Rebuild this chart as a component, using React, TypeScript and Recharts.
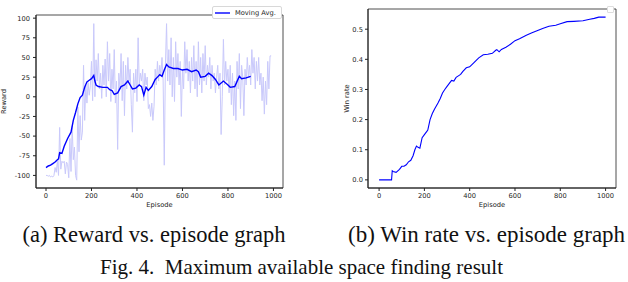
import { Legend, Line, LineChart, ReferenceArea, XAxis, YAxis } from "recharts";

const RAW_STEP = 5;
const rawReward = [
  -100, -100, -101, -100, -102, -101, -102, -100, -90, -96, -82, -100, -39, -92, -82, -84, -82, -98, -83, -86,
  -103, -53, -95, -37, -80, -64, -100, -106, -13, -70, -24, -55, -45, 40, -30, 15, -8, 18, 2, 14,
  45, -5, 93, 0, 47, 20, 55, 10, 30, -2, 40, 15, 48, 0, 70, 20, 55, -6, 35, 10,
  60, -8, 20, -67, 30, 10, 55, -5, 45, -24, 40, 10, 50, 20, 35, -10, -45, 30, 5, 35,
  -6, 75, 15, 30, 20, 35, -5, 30, 15, 25, -15, -10, -25, -8, -30, -12, 35, 15, 45, 20,
  40, 28, 50, 20, -87, 40, 93, 20, 60, 15, 75, 0, 50, -6, 70, 25, 55, 15, 45, -25,
  35, 10, 70, 30, 60, 20, 45, 5, 50, 20, 65, 10, 45, 0, 70, 15, 50, 5, 55, 20,
  65, 15, 40, 25, 50, 10, 40, 20, 30, 5, 25, 40, 10, 30, -48, 0, 73, 15, 45, 20,
  35, 5, 40, -10, 30, -24, 20, -30, 45, 10, 55, -15, 40, 25, -24, 35, 15, 50, 25, 40,
  15, 60, 30, 50, 10, 45, 20, 50, 15, 30, -5, 25, -22, 20, -10, 45, 10, 52, 52,
];

const maEpisodes = [
  0, 10, 20, 30, 40, 50, 55, 60, 70, 80, 95, 110, 120, 130, 140, 150, 160, 170, 180, 190,
  200, 210, 215, 220, 230, 250, 270, 280, 290, 300, 315, 330, 345, 360, 370, 380, 395, 410, 420, 430,
  440, 450, 465, 480, 490, 500, 510, 520, 530, 540, 560, 580, 600, 620, 640, 660, 670, 680, 700, 715,
  730, 745, 760, 780, 800, 810, 830, 850, 860, 880, 900,
];
const maReward = [
  -90, -88, -87, -85, -83, -80, -79, -71, -72, -63, -53, -45, -30, -20, -9, -1, 2, 12, 19, 21,
  23, 27, 20, 15, 13, 12, 12, 9, 8, 3, 5, 13, 15, 20, 15, 10, 11, 15, 13, 2,
  12, 8, 13, 22, 25, 28, 26, 34, 41, 38, 36, 36, 34, 35, 32, 34, 32, 25, 26, 30,
  27, 22, 15, 20, 15, 12, 13, 26, 23, 24, 26,
];

const winEpisodes = [
  0, 55, 58, 62, 75, 90, 100, 110, 120, 130, 140, 150, 158, 165, 172, 180, 190, 200, 210, 215,
  225, 235, 245, 260, 270, 280, 290, 300, 310, 320, 330, 340, 350, 360, 370, 385, 400, 420, 440, 460,
  480, 500, 515, 520, 530, 540, 560, 580, 600, 620, 650, 675, 700, 725, 750, 780, 800, 830, 860, 900,
  930, 950, 970, 1000,
];
const winRate = [
  0, 0, 0.03, 0.028, 0.025, 0.035, 0.045, 0.045, 0.05, 0.06, 0.065, 0.08, 0.1, 0.112, 0.108, 0.105, 0.14, 0.15, 0.16, 0.165,
  0.2, 0.22, 0.235, 0.255, 0.27, 0.288, 0.3, 0.31, 0.32, 0.33, 0.328, 0.34, 0.345, 0.35, 0.36, 0.372, 0.375, 0.39, 0.405, 0.415,
  0.417, 0.42, 0.43, 0.432, 0.425, 0.433, 0.44, 0.45, 0.462, 0.468, 0.48, 0.488, 0.496, 0.503, 0.51, 0.513, 0.518, 0.525, 0.526, 0.528,
  0.533, 0.536, 0.54, 0.54,
];

const episodeTicks = [0, 200, 400, 600, 800, 1000];
const rewardTicks = [-100, -75, -50, -25, 0, 25, 50, 75, 100];
const winTicks = [0, 0.1, 0.2, 0.3, 0.4, 0.5];

const rawData = rawReward.map((v, i) => ({ episode: i * RAW_STEP, reward: v }));
const maData = maEpisodes.map((e, i) => ({ episode: e, reward: maReward[i] }));
const winData = winEpisodes.map((e, i) => ({ episode: e, rate: winRate[i] }));

const INK = "#222";
const tickStyle = { fill: INK, fontSize: 6.7, fontFamily: "DejaVu Sans" };
const titleStyle = { fill: INK, fontSize: 6.7, fontFamily: "DejaVu Sans", textAnchor: "middle" as const };

function RewardLegend({ payload }: any) {
  const items = (payload || []).filter((e: any) => e.type !== "none");
  return (
    <div
      style={{
        border: "1px solid #d8d8d8",
        borderRadius: 2,
        background: "#fff",
        height: 11,
        width: 68,
        display: "flex",
        alignItems: "center",
        fontFamily: "DejaVu Sans",
        fontSize: 6.7,
        color: INK,
        whiteSpace: "nowrap",
      }}
    >
      {items.map((e: any) => (
        <span key={e.value} style={{ display: "flex", alignItems: "center" }}>
          <svg width={17} height={4} style={{ marginLeft: 2 }}>
            <line x1={0} y1={2} x2={15} y2={2} stroke={e.color} strokeWidth={1.4} />
          </svg>
          <span style={{ marginLeft: 3 }}>{e.value}</span>
        </span>
      ))}
    </div>
  );
}

function EmptyLegend() {
  return <div style={{ width: 5, height: 5, border: "1px solid #ddd", borderRadius: 1, background: "#fff" }} />;
}

const captionStyle = { whiteSpace: "pre" as const };

export default function App() {
  return (
    <div style={{ position: "absolute", left: 0, top: 0, width: 628, height: 282, background: "#fff", overflow: "hidden" }}>
      <div style={{ position: "absolute", left: 0, top: 0 }}>
        <LineChart width={300} height={210} margin={{ top: 2, right: 17, bottom: 0, left: 0 }}>
          <XAxis
            dataKey="episode"
            type="number"
            domain={[-44, 1042]}
            ticks={episodeTicks}
            allowDataOverflow
            height={22}
            tick={tickStyle}
            tickSize={3}
            tickLine={{ stroke: INK }}
            axisLine={{ stroke: INK }}
            label={{ value: "Episode", position: "insideBottom", offset: 3.5, style: titleStyle }}
          />
          <YAxis
            type="number"
            domain={[-116, 104]}
            ticks={rewardTicks}
            allowDataOverflow
            width={36}
            tick={tickStyle}
            tickSize={3}
            tickMargin={3}
            tickLine={{ stroke: INK }}
            axisLine={{ stroke: INK }}
            label={{ value: "Reward", angle: -90, position: "insideLeft", offset: 4, style: titleStyle }}
          />
          <ReferenceArea x1={-44} x2={1042} y1={-116} y2={104} fill="none" stroke={INK} strokeWidth={0.8} />
          <Line data={rawData} dataKey="reward" stroke="#c9c9fb" strokeWidth={1} dot={false} legendType="none" isAnimationActive={false} />
          <Line data={maData} dataKey="reward" name="Moving Avg." stroke="#0000ff" strokeWidth={1.4} dot={false} legendType="plainline" isAnimationActive={false} />
          <Legend layout="vertical" align="center" verticalAlign="top" content={RewardLegend} wrapperStyle={{ top: 6, left: 212, width: 70 }} />
        </LineChart>
      </div>

      <div style={{ position: "absolute", left: 320, top: 0 }}>
        <LineChart width={308} height={210} margin={{ top: 2, right: 12, bottom: 0, left: 0 }}>
          <XAxis
            dataKey="episode"
            type="number"
            domain={[-49, 1046]}
            ticks={episodeTicks}
            allowDataOverflow
            height={22}
            tick={tickStyle}
            tickSize={3}
            tickLine={{ stroke: INK }}
            axisLine={{ stroke: INK }}
            label={{ value: "Episode", position: "insideBottom", offset: 3.5, style: titleStyle }}
          />
          <YAxis
            type="number"
            domain={[-0.027, 0.567]}
            ticks={winTicks}
            allowDataOverflow
            width={48}
            tick={tickStyle}
            tickSize={3}
            tickMargin={2}
            tickFormatter={(v: number) => v.toFixed(1)}
            tickLine={{ stroke: INK }}
            axisLine={{ stroke: INK }}
            label={{ value: "Win rate", angle: -90, position: "insideLeft", offset: 27, style: titleStyle }}
          />
          <ReferenceArea x1={-49} x2={1046} y1={-0.027} y2={0.567} fill="none" stroke={INK} strokeWidth={0.8} />
          <Line data={winData} dataKey="rate" stroke="#0000ff" strokeWidth={1.1} dot={false} legendType="none" isAnimationActive={false} />
          <Legend layout="vertical" align="center" verticalAlign="top" content={EmptyLegend} wrapperStyle={{ top: 6, left: 287, width: 8 }} />
        </LineChart>
      </div>

      <svg width={628} height={282} style={{ position: "absolute", left: 0, top: 0, pointerEvents: "none" }}>
        <g fontFamily="Liberation Serif" fill="#111">
          <text x={22.5} y={241.5} fontSize={22.5} style={captionStyle}>(a) Reward vs. episode graph</text>
          <text x={348} y={241.5} fontSize={23} style={captionStyle}>(b) Win rate vs. episode graph</text>
          <text x={100} y={274} fontSize={21} style={captionStyle}>Fig. 4.  Maximum available space finding result</text>
        </g>
      </svg>
    </div>
  );
}
